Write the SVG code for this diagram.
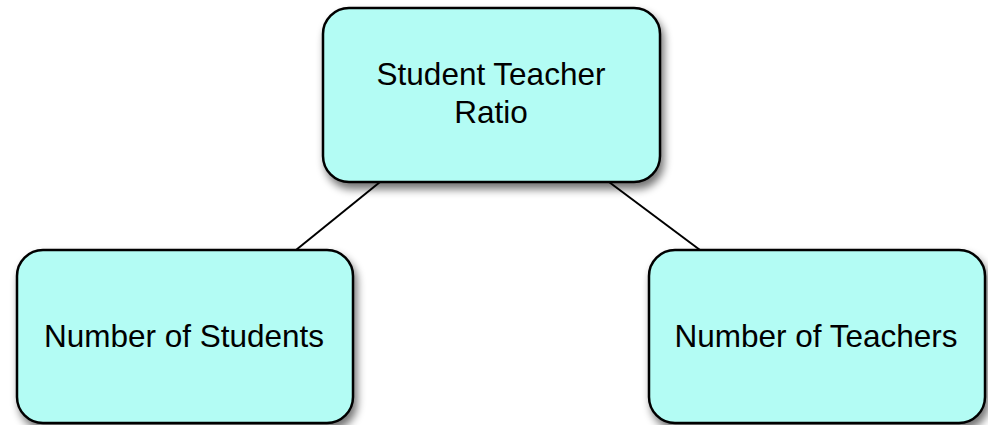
<svg xmlns="http://www.w3.org/2000/svg" width="988" height="425" viewBox="0 0 988 425">
  <style>
    .box { fill: #b3fcf4; stroke: #000; stroke-width: 2.5; filter: url(#shadow); }
    .label { font-family: "Liberation Sans", Arial, sans-serif; font-size: 31.5px; fill: #000; text-anchor: middle; }
    .link { stroke: #000; stroke-width: 2; fill: none; }
  </style>
  <defs>
    <filter id="shadow" x="-10%" y="-10%" width="130%" height="140%">
      <feGaussianBlur in="SourceAlpha" stdDeviation="4"/>
      <feOffset dx="3" dy="6" result="blur"/>
      <feComponentTransfer><feFuncA type="linear" slope="0.55"/></feComponentTransfer>
      <feMerge><feMergeNode/><feMergeNode in="SourceGraphic"/></feMerge>
    </filter>
  </defs>
  <rect width="988" height="425" fill="#fff"/>

  <g id="connectors">
    <line class="link" x1="380" y1="182" x2="296" y2="250"/>
    <line class="link" x1="609" y1="182" x2="700" y2="250"/>
  </g>

  <g id="ratio">
    <rect class="box" x="323" y="8" width="337" height="174" rx="26"/>
    <text class="label" x="491" y="85">Student Teacher</text>
    <text class="label" x="491" y="123">Ratio</text>
  </g>

  <g id="students">
    <rect class="box" x="17" y="250" width="336" height="173" rx="26"/>
    <text class="label" x="184" y="347">Number of Students</text>
  </g>

  <g id="teachers">
    <rect class="box" x="649" y="250" width="336" height="173" rx="26"/>
    <text class="label" x="816" y="347">Number of Teachers</text>
  </g>
</svg>
